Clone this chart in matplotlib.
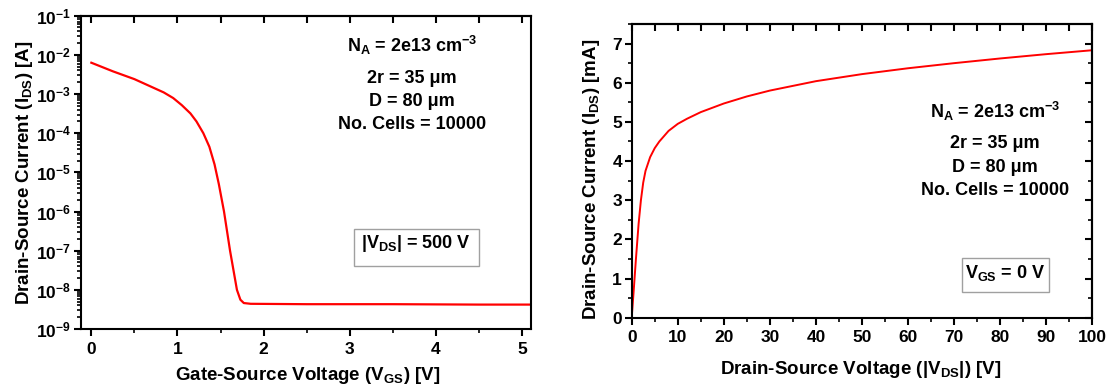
import matplotlib
matplotlib.use("Agg")
import matplotlib.pyplot as plt
from matplotlib.ticker import MultipleLocator, LogLocator, NullFormatter
from matplotlib.patches import Rectangle

plt.rcParams['font.family'] = ['Liberation Sans', 'DejaVu Sans']
plt.rcParams['font.weight'] = 'bold'
plt.rcParams['mathtext.fontset'] = 'custom'
plt.rcParams['mathtext.rm'] = 'Liberation Sans:bold'
plt.rcParams['mathtext.it'] = 'Liberation Sans:bold'
plt.rcParams['mathtext.bf'] = 'Liberation Sans:bold'
plt.rcParams['mathtext.sf'] = 'Liberation Sans:bold'
plt.rcParams['axes.linewidth'] = 1.5

# ---- data: transfer characteristic (left) ----
vgs = [0, 0.25, 0.5, 0.84, 0.95, 1.05, 1.15, 1.22, 1.30, 1.37, 1.43, 1.48, 1.54, 1.61, 1.69,
       1.73, 1.77, 1.85, 2.5, 3.5, 4.5, 5.1]
ids_transfer = [6.3e-3, 3.8e-3, 2.4e-3, 1.1e-3, 7.9e-4, 5.2e-4, 3.2e-4, 2.0e-4, 1.0e-4,
                4.5e-5, 1.6e-5, 5.0e-6, 1.0e-6, 1.0e-7, 1.0e-8, 5.6e-9, 4.6e-9, 4.4e-9,
                4.3e-9, 4.3e-9, 4.2e-9, 4.2e-9]

# ---- data: output characteristic (right) ----
vds = [0, 0.5, 0.9, 1.5, 2, 2.5, 3, 4, 5, 6, 8, 10, 12, 15, 20, 25, 30, 40, 50, 60, 70,
       80, 90, 100]
ids_output = [0, 0.8, 1.47, 2.4, 3.0, 3.45, 3.75, 4.1, 4.33, 4.5, 4.77, 4.95, 5.08, 5.25,
              5.47, 5.65, 5.80, 6.04, 6.22, 6.37, 6.5, 6.62, 6.73, 6.83]

param_lines = [r'N$_{\mathregular{A}}$ = 2e13 cm$^{\mathregular{-3}}$',
               '2r = 35 \u03bcm', 'D = 80 \u03bcm', 'No. Cells = 10000']

W, H = 1112, 392
fig = plt.figure(figsize=(W / 100, H / 100), dpi=100)

TICK = 12.5
LAB = 13.5
ANN = 13

# ---------------- left ----------------
ax1 = fig.add_axes([81 / W, 1 - 329 / H, 449.7 / W, 313.3 / H])
ax1.plot(vgs, ids_transfer, color='#ff0000', lw=1.6)
ax1.set_yscale('log')
ax1.set_xlim(-0.12, 5.1)
ax1.set_ylim(1e-9, 1e-1)
ax1.xaxis.set_major_locator(MultipleLocator(1))
ax1.xaxis.set_minor_locator(MultipleLocator(0.5))
ax1.yaxis.set_major_locator(LogLocator(base=10, numticks=20))
ax1.yaxis.set_minor_locator(LogLocator(base=10, subs=[2, 3, 4, 5, 6, 7, 8, 9], numticks=20))
ax1.yaxis.set_minor_formatter(NullFormatter())
ax1.tick_params(which='major', direction='out', length=5, width=1.5, labelsize=TICK, pad=2)
ax1.tick_params(which='minor', direction='out', length=3, width=1.2)
ax1.tick_params(axis='x', which='major', pad=4)
sec = ax1.secondary_xaxis('top')
sec.xaxis.set_major_locator(MultipleLocator(0.5))
sec.tick_params(direction='in', length=5, width=1.5, labeltop=False)
sec.spines['top'].set_linewidth(1.5)
ax1.set_xlabel(r'Gate-Source Voltage (V$_{\mathregular{GS}}$) [V]', fontsize=LAB, fontweight='bold')
ax1.set_ylabel(r'Drain-Source Current (I$_{\mathregular{DS}}$) [A]', fontsize=LAB, fontweight='bold')
ax1.xaxis.set_label_coords(0.504, -0.115)
ax1.yaxis.set_label_coords(-0.103, 0.5)

ys = [0.883, 0.786, 0.712, 0.639]
for s, y in zip(param_lines, ys):
    ax1.text(0.736, y, s, transform=ax1.transAxes, ha='center', va='baseline',
             fontsize=ANN, fontweight='bold')
ax1.add_patch(Rectangle((0.606, 0.202), 0.278, 0.118, transform=ax1.transAxes,
                        fill=False, edgecolor='#a0a0a0', lw=1.0))
ax1.text(0.745, 0.258, r'|V$_{\mathregular{DS}}$| = 500 V', transform=ax1.transAxes,
         ha='center', va='baseline', fontsize=ANN, fontweight='bold')

# ---------------- right ----------------
ax2 = fig.add_axes([631.7 / W, 1 - 317.7 / H, 460.6 / W, 293.7 / H])
ax2.plot(vds, ids_output, color='#ff0000', lw=1.4)
ax2.set_xlim(0, 100)
ax2.set_ylim(0, 7.5)
ax2.xaxis.set_major_locator(MultipleLocator(10))
ax2.xaxis.set_minor_locator(MultipleLocator(5))
ax2.yaxis.set_major_locator(MultipleLocator(1))
ax2.yaxis.set_minor_locator(MultipleLocator(0.5))
ax2.tick_params(which='major', direction='out', length=5, width=1.5, labelsize=TICK, pad=2)
ax2.tick_params(which='minor', direction='out', length=3, width=1.2)
ax2.tick_params(axis='x', which='major', pad=4)
secx = ax2.secondary_xaxis('top')
secx.xaxis.set_major_locator(MultipleLocator(5))
secx.tick_params(direction='in', length=5, width=1.5, labeltop=False)
secy = ax2.secondary_yaxis('right')
secy.yaxis.set_major_locator(MultipleLocator(1))
secy.yaxis.set_minor_locator(MultipleLocator(0.5))
secy.tick_params(which='major', direction='in', length=5, width=1.5, labelright=False)
secy.tick_params(which='minor', direction='in', length=3, width=1.2)
ax2.set_xlabel(r'Drain-Source Voltage (|V$_{\mathregular{DS}}$|) [V]', fontsize=LAB, fontweight='bold')
ax2.set_ylabel(r'Drain-Source Current (I$_{\mathregular{DS}}$) [mA]', fontsize=LAB, fontweight='bold')
ax2.xaxis.set_label_coords(0.498, -0.14)
ax2.yaxis.set_label_coords(-0.064, 0.47)

ys2 = [0.680, 0.578, 0.496, 0.417]
for s, y in zip(param_lines, ys2):
    ax2.text(0.789, y, s, transform=ax2.transAxes, ha='center', va='baseline',
             fontsize=ANN, fontweight='bold')
ax2.add_patch(Rectangle((0.718, 0.0875), 0.188, 0.1165, transform=ax2.transAxes,
                        fill=False, edgecolor='#a0a0a0', lw=1.0))
ax2.text(0.810, 0.134, r'V$_{\mathregular{GS}}$ = 0 V', transform=ax2.transAxes,
         ha='center', va='baseline', fontsize=ANN, fontweight='bold')

fig.savefig('out.png', dpi=100)
